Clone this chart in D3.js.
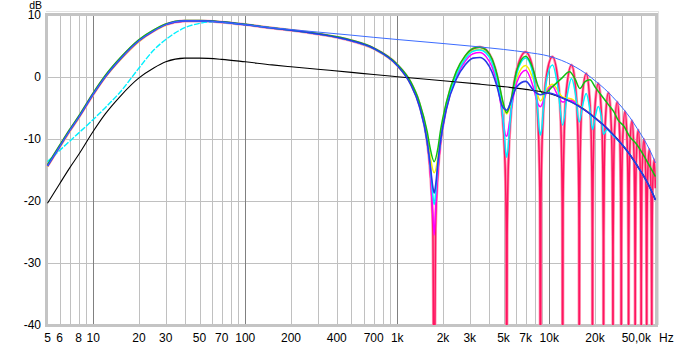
<!DOCTYPE html>
<html>
<head>
<meta charset="utf-8">
<script src="https://cdn.jsdelivr.net/npm/d3@7"></script>
<style>
  html, body { margin: 0; padding: 0; background: #fff; }
  svg text { font-family: "Liberation Sans", Arial, sans-serif; font-size: 12px; fill: #000; }
</style>
</head>
<body>
<svg id="chart" width="678" height="346"></svg>
<script>
// ---- axis ticks -------------------------------------------------------
const xTickValues = [5, 6, 8, 10, 20, 30, 50, 70, 100, 200, 400, 700, 1000, 2000, 3000, 5000, 7000, 10000, 20000, 50000];
const xTickLabels = ["5", "6", "8", "10", "20", "30", "50", "70", "100", "200", "400", "700", "1k", "2k", "3k", "5k", "7k", "10k", "20k", "50,0k"];
const yTickValues = [10, 0, -10, -20, -30, -40];
const minorGridFreqs = [6, 7, 8, 9, 20, 30, 40, 50, 60, 70, 80, 90, 200, 300, 400, 500, 600, 700, 800, 900,
  2000, 3000, 4000, 5000, 6000, 7000, 8000, 9000, 20000, 30000, 40000];
const decadeGridFreqs = [10, 100, 1000, 10000];

// ---- response curves: [frequency Hz, level dB] -----------------------
// single source
const direct = [[5,-20.4],[6,-17.3],[7,-14.7],[8,-12.6],[10,-8.8],[12,-6.0],[15,-3.2],[20,-0.2],[25,1.4],[30,2.4],
  [40,3.0],[50,3.0],[70,2.8],[100,2.4],[150,1.9],[200,1.6],[300,1.2],[500,0.7],[700,0.35],[1000,0.0],[2000,-0.65],
  [3500,-1.2],[5000,-1.6],[7000,-2.05],[10000,-2.7],[12000,-3.35],[14000,-4.1],[16000,-4.9],[18000,-5.75],
  [20000,-6.65],[23000,-7.9],[26000,-9.2],[30000,-10.9],[34000,-12.6],[38000,-14.4],[42000,-16.1],[46000,-17.9],[50000,-19.9]];

// in-phase sum (upper envelope)
const envelope = [[5,-14.4],[6,-11.3],[7,-8.7],[8,-6.6],[10,-2.8],[12,0.0],[15,2.8],[20,5.8],[25,7.4],[30,8.4],
  [40,9.0],[50,9.0],[70,8.8],[100,8.4],[150,7.9],[200,7.6],[300,7.2],[500,6.7],[700,6.35],[1000,6.0],[2000,5.35],
  [3500,4.8],[5000,4.4],[7000,3.95],[10000,3.3],[12000,2.65],[14000,1.9],[16000,1.1],[18000,0.25],[20000,-0.65],
  [23000,-1.9],[26000,-3.2],[30000,-4.9],[34000,-6.6],[38000,-8.4],[42000,-10.1],[46000,-11.9],[50000,-13.9]];

// low-frequency part shared by the summed curves
const lowBand = [[5,-14.4],[6,-11.3],[7,-8.7],[8,-6.6],[10,-2.8],[12,0.0],[15,2.8],[20,5.8],[25,7.4],[30,8.4],
  [40,9.0],[50,9.0],[70,8.8],[100,8.4],[150,7.85],[200,7.5],[300,6.9],[500,5.8],[700,4.55]];

// unsmoothed comb
const combRaw = [[1000,1.9],[1225,-1.0],[1400,-4.5],[1575,-10.55],[1645,-15.0],[1715,-24.5],[1750,-60],[1785,-24.6],
  [1855,-15.1],[1925,-10.7],[2100,-4.9],[2450,0.56],[2800,3.2],[3150,4.5],[3500,4.8],[3850,4.3],[4200,2.8],[4550,-0.1],
  [4900,-5.7],[5075,-11.7],[5145,-16.1],[5215,-25.6],[5250,-60],[5285,-25.7],[5355,-16.2],[5425,-11.8],[5600,-5.9],
  [6125,1.2],[7000,4.0],[7875,0.8],[8400,-6.5],[8575,-12.5],[8680,-20.4],[8750,-60],[8820,-20.5],[8925,-12.6],
  [9100,-6.7],[9625,0.4],[10500,3.2],
  [11550,-1.7],[11970,-9.4],[12180,-21.4],[12250,-60],[12320,-21.5],[12530,-9.6],[12950,-2.3],[14000,1.9],
  [15050,-3.1],[15470,-10.8],[15680,-22.8],[15750,-60],[15820,-22.8],[16030,-11.0],[16450,-3.7],[17500,0.5],
  [18550,-4.6],[18970,-12.3],[19180,-24.3],[19250,-60],[19320,-24.3],[19530,-12.5],[19950,-5.2],[21000,-1.1],
  [22050,-6.1],[22470,-13.8],[22680,-25.8],[22750,-60],[22820,-25.8],[23030,-14.0],[23450,-6.7],[24500,-2.6],
  [25550,-7.6],[25970,-15.3],[26180,-27.3],[26250,-60],[26320,-27.3],[26530,-15.5],[26950,-8.2],[28000,-4.1],
  [29050,-9.1],[29470,-16.8],[29680,-28.8],[29750,-60],[29820,-28.8],[30030,-17.0],[30450,-9.7],[31500,-5.6],
  [32550,-10.6],[32970,-18.3],[33180,-30.3],[33250,-60],[33320,-30.3],[33530,-18.5],[33950,-11.2],[35000,-7.1],
  [36050,-12.1],[36470,-19.8],[36680,-31.8],[36750,-60],[36820,-31.8],[37030,-20.0],[37450,-12.7],[38500,-8.6],
  [39550,-13.6],[39970,-21.3],[40180,-33.3],[40250,-60],[40320,-33.3],[40530,-21.5],[40950,-14.2],[42000,-10.1],
  [43050,-15.2],[43470,-22.9],[43680,-34.9],[43750,-60],[43820,-34.9],[44030,-23.1],[44450,-15.8],[45500,-11.7],
  [46550,-16.8],[46970,-24.5],[47180,-36.5],[47250,-60],[47320,-36.5],[47530,-24.7],[47950,-17.5],[49000,-13.4],
  [50000,-18.0]];

const combYellow = [[5,-14.5],[6,-11.4],[7,-8.8],[8,-6.7],[10,-2.9],[12,-0.1],[15,2.7],[20,5.7],[25,7.35],[30,8.35],
  [40,9.0],[50,9.0],[70,8.8],[100,8.4],[150,7.85],[200,7.5],[300,6.9],[500,5.8],[700,4.5],
  [1000,1.8],[1225,-1.2],[1400,-4.6],[1575,-9.8],[1645,-12.8],[1750,-15.5],[1855,-12.9],[1925,-9.8],[2100,-4.8],
  [2450,0.5],[2800,3.1],[3150,4.2],[3500,4.4],[3850,3.9],[4200,2.3],[4550,-0.6],[4900,-4.2],[5250,-6.0],[5600,-4.3],
  [6125,-0.2],[7000,1.8],[7875,-0.5],[8750,-3.9],[9625,-2.0],[10500,-1.2],[12250,-3.3],[14000,-3.6],[16000,-4.8],
  [18000,-5.7],[20000,-6.6],[23000,-7.9],[26000,-9.2],[30000,-10.9],[34000,-12.6],[38000,-14.4],[42000,-16.1],
  [46000,-17.9],[50000,-19.9]];

const combMagenta = [[1000,1.87],[1225,-1.1],[1400,-4.65],[1575,-10.65],[1645,-14.9],[1715,-22.4],[1750,-25.55],
  [1785,-21.8],[1855,-14.8],[1925,-10.8],[2100,-5.2],[2450,0.0],[2800,2.5],[3150,3.7],[3500,3.9],[3850,3.2],[4200,1.6],
  [4550,-1.3],[4900,-5.85],[5075,-8.6],[5145,-9.4],[5250,-9.6],[5355,-8.9],[5425,-8.0],[5600,-5.6],[6125,-0.9],
  [7000,1.05],[7875,-1.8],[8400,-4.35],[8750,-4.85],[9100,-4.1],[9625,-2.45],[10500,-1.55],[11375,-3.05],[12250,-4.1],
  [13125,-3.75],[14000,-3.85],[16000,-4.9],[18000,-5.75],[20000,-6.65],[23000,-7.9],[26000,-9.2],[30000,-10.9],
  [34000,-12.6],[38000,-14.4],[42000,-16.1],[46000,-17.9],[50000,-19.9]];

// cyan: low band drawn with a broken line, upper band solid
const combCyanLow = [[5,-13.7],[6,-11.9],[7,-10.4],[8,-9.1],[10,-6.9],[12,-5.0],[15,-2.5],[20,1.4],[25,4.3],[30,6.0],
  [40,7.9],[50,8.6],[60,8.85],[70,8.8]];
const combCyan = [[70,8.8],[100,8.4],[150,7.85],[200,7.5],[300,6.9],[500,5.8],[700,4.55],
  [1000,1.85],[1225,-1.1],[1400,-4.7],[1575,-10.6],[1645,-14.3],[1715,-19.2],[1750,-20.6],[1785,-19.0],[1855,-13.8],
  [1925,-10.5],[2100,-5.0],[2450,0.3],[2800,2.9],[3150,4.1],[3500,4.3],[3850,3.8],[4200,2.3],[4550,-0.6],[4900,-5.5],
  [5075,-9.5],[5145,-11.6],[5250,-13.0],[5355,-11.6],[5425,-9.8],[5600,-5.6],[6125,0.6],[7000,3.0],[7875,0.0],
  [8400,-5.5],[8575,-8.3],[8750,-9.4],[8925,-8.4],[9100,-5.8],[9625,-0.4],[10500,1.9],[11375,-1.6],[12250,-7.8],
  [13125,-3.0],[14000,-0.3],[14875,-2.8],[15750,-7.3],[16625,-4.5],[17500,-2.7],[18375,-4.8],[19250,-8.5],
  [20125,-6.3],[21000,-4.8],[22000,-6.5],[22750,-9.3],[24000,-8.5],[26000,-9.4],[30000,-10.9],[34000,-12.6],
  [38000,-14.4],[42000,-16.1],[46000,-17.9],[50000,-19.9]];

const combGreen = [[5,-14.2],[6,-11.1],[7,-8.5],[8,-6.4],[10,-2.6],[12,0.2],[15,3.0],[20,6.0],[25,7.55],[30,8.5],
  [40,9.05],[50,9.05],[70,8.85],[100,8.45],[150,7.9],[200,7.55],[300,6.95],[500,5.9],[700,4.65],
  [1000,2.0],[1225,-0.8],[1400,-4.1],[1575,-8.9],[1645,-11.5],[1750,-13.7],[1855,-11.4],[1925,-8.7],[2100,-4.2],
  [2450,0.9],[2800,3.4],[3150,4.55],[3500,4.75],[3850,4.3],[4200,2.9],[4550,0.2],[4900,-3.5],[5075,-5.0],[5250,-5.8],
  [5425,-5.0],[5600,-3.7],[6125,1.1],[7000,3.3],[7875,1.0],[8400,-1.4],[8750,-2.3],[9200,-2.8],[10500,-1.6],
  [12000,-0.3],[13600,0.8],[14800,-0.4],[15900,-1.9],[17200,-0.8],[18500,-0.5],[20200,-1.8],[22000,-3.0],
  [24500,-4.5],[26500,-5.6],[28400,-7.0],[31000,-8.0],[33900,-9.7],[37000,-10.7],[41600,-12.6],[45000,-14.1],
  [50000,-16.1]];

const combBlue = [[1000,1.8],[1225,-1.25],[1400,-4.8],[1575,-10.5],[1645,-14.1],[1715,-17.8],[1750,-18.75],
  [1785,-17.7],[1855,-13.6],[1925,-10.4],[2100,-5.3],[2450,-0.37],[2800,1.93],[3150,3.0],[3500,3.1],[3850,2.4],
  [4200,0.75],[4550,-1.76],[4900,-4.7],[5075,-5.2],[5250,-5.4],[5425,-4.9],[5600,-3.95],[6125,-1.6],[7000,-0.76],
  [7875,-2.2],[8750,-2.9],[9625,-2.6],[10500,-2.75],[12000,-3.35],[14000,-4.1],[16000,-4.9],[18000,-5.75],
  [20000,-6.65],[23000,-7.9],[26000,-9.2],[30000,-10.9],[34000,-12.6],[38000,-14.4],[42000,-16.1],[46000,-17.9],
  [50000,-19.9]];

// ---- layout -----------------------------------------------------------
const svg = d3.select("#chart");
const plot = { left: 47.5, right: 655.5, top: 14.7, bottom: 324.7 };
const x = d3.scaleLog().domain([5, 50000]).range([plot.left, plot.right]);
const y = d3.scaleLinear().domain([-40, 10]).range([plot.bottom, plot.top]);
const px = v => Math.round(v) + 0.5;

svg.append("defs").append("clipPath").attr("id", "plotClip")
  .append("rect")
  .attr("x", 46).attr("y", 14)
  .attr("width", 610).attr("height", 311);

// grid
const grid = svg.append("g").attr("shape-rendering", "crispEdges");
grid.selectAll("line.minor").data(minorGridFreqs).join("line")
  .attr("x1", d => px(x(d))).attr("x2", d => px(x(d)))
  .attr("y1", plot.top).attr("y2", plot.bottom)
  .attr("stroke", "#c0c0c0").attr("stroke-width", 1);
grid.selectAll("line.hgrid").data(yTickValues.slice(1, -1)).join("line")
  .attr("x1", plot.left).attr("x2", plot.right)
  .attr("y1", d => px(y(d))).attr("y2", d => px(y(d)))
  .attr("stroke", "#c0c0c0").attr("stroke-width", 1);
grid.selectAll("line.decade").data(decadeGridFreqs).join("line")
  .attr("x1", d => px(x(d))).attr("x2", d => px(x(d)))
  .attr("y1", plot.top).attr("y2", plot.bottom)
  .attr("stroke", "#808080").attr("stroke-width", 1);

// frame
const frame = svg.append("g").attr("shape-rendering", "crispEdges");
frame.append("rect")
  .attr("x", 46).attr("y", 14).attr("width", 610).attr("height", 311)
  .attr("fill", "none").attr("stroke", "#c4c4c4").attr("stroke-width", 3);
frame.append("polyline")
  .attr("points", "46,11.5 658.5,11.5 658.5,325")
  .attr("fill", "none").attr("stroke", "#e2e2e2").attr("stroke-width", 1);

// curves
const line = d3.line()
  .x(d => x(d[0]))
  .y(d => y(d[1]))
  .curve(d3.curveMonotoneX);

const curves = svg.append("g").attr("clip-path", "url(#plotClip)").attr("fill", "none")
  .attr("stroke-linejoin", "round");

const series = [
  { data: lowBand.concat(combRaw), color: "#ff9ab6", width: 3.0 },
  { data: lowBand.concat(combRaw), color: "#ff1560", width: 1.5 },
  { data: combYellow, color: "#f4f400", width: 1.5 },
  { data: lowBand.concat(combMagenta), color: "#ff00ff", width: 1.5 },
  { data: combCyanLow, color: "#00f0ff", width: 1.4, dash: "6 1.5" },
  { data: combCyan, color: "#00f0ff", width: 1.5 },
  { data: combGreen, color: "#10c010", width: 1.5 },
  { data: direct, color: "#000000", width: 1.1 },
  { data: lowBand.concat(combBlue), color: "#2838e8", width: 1.6 },
  { data: envelope, color: "#3c6cff", width: 1 }
];

curves.selectAll("path").data(series).join("path")
  .attr("d", s => line(s.data))
  .attr("stroke", s => s.color)
  .attr("stroke-width", s => s.width)
  .attr("stroke-dasharray", s => s.dash || null);

// y labels
svg.append("g").selectAll("text").data(yTickValues).join("text")
  .attr("x", 41).attr("y", d => y(d))
  .attr("dy", "0.38em")
  .attr("text-anchor", "end")
  .text(d => d);
svg.append("text").attr("x", 42).attr("y", 9.2).attr("text-anchor", "end")
  .style("font-size", "10.5px").text("dB");

// x labels
svg.append("g").selectAll("text").data(xTickValues).join("text")
  .attr("x", (d, i) => i === xTickValues.length - 1 ? 651 : x(d))
  .attr("y", 342)
  .attr("text-anchor", (d, i) => i === xTickValues.length - 1 ? "end" : "middle")
  .text((d, i) => xTickLabels[i]);
svg.append("text").attr("x", 659).attr("y", 342).text("Hz");
</script>
</body>
</html>
